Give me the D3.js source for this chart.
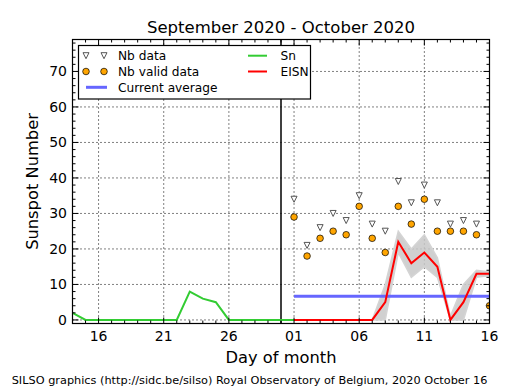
<!DOCTYPE html>
<html>
<head>
<meta charset="utf-8">
<script src="https://cdn.jsdelivr.net/npm/d3@7"></script>
<style>
  body { margin: 0; background: #fff; }
  svg { display: block; }
  text { font-family: "DejaVu Sans", sans-serif; }
</style>
</head>
<body>
<svg id="chart" width="515" height="390"></svg>
<script>
// ---------- data ----------
const snDates = ["2020-09-14","2020-09-15","2020-09-16","2020-09-17","2020-09-18","2020-09-19","2020-09-20","2020-09-21","2020-09-22","2020-09-23","2020-09-24","2020-09-25","2020-09-26","2020-09-27","2020-09-28","2020-09-29","2020-09-30","2020-10-01"];
const snValues = [2,0,0,0,0,0,0,0,0,8,6,5,0,0,0,0,0,0];

const octDates = ["2020-10-01","2020-10-02","2020-10-03","2020-10-04","2020-10-05","2020-10-06","2020-10-07","2020-10-08","2020-10-09","2020-10-10","2020-10-11","2020-10-12","2020-10-13","2020-10-14","2020-10-15","2020-10-16"];
const eisnValues = [0,0,0,0,0,0,0,5,22,16,19,15,0,5,13,13];
const eisnLower  = [0,0,0,0,0,0,0,0,19,12,15,12,0,0,12,12.5];
const eisnUpper  = [0,0,0,0,0,0,0,10,25,20,24,17.5,1,10,14,13.5];

const nbDataDates = octDates.slice(0, 15);
const nbDataValues = [34,21,26,30,28,35,27,25,39,33,38,33,27,28,27];
const nbValidValues = [29,18,23,25,24,32,23,19,32,27,34,25,25,25,24,4];

const currentAverage = 6.7;
const averageStart = "2020-10-01";
const averageEnd = "2020-10-16";
const separatorDate = "2020-09-30";

const xDomain = ["2020-09-14","2020-10-16"];
const xTickDates = ["2020-09-16","2020-09-21","2020-09-26","2020-10-01","2020-10-06","2020-10-11","2020-10-16"];
const yDomain = [-1, 79];
const yTicks = [0,10,20,30,40,50,60,70];

const titleText = "September 2020 - October 2020";
const xLabel = "Day of month";
const yLabel = "Sunspot Number";
const footerText = "SILSO graphics (http://sidc.be/silso) Royal Observatory of Belgium, 2020 October 16";

// ---------- layout ----------
const P = d3.utcParse("%Y-%m-%d");
const pL = 72.5, pR = 489.5, pT = 39.5, pB = 323.5;
const svg = d3.select("#chart");

const x = d3.scaleUtc().domain(xDomain.map(P)).range([pL, pR]);
const y = d3.scaleLinear().domain(yDomain).range([pB, pT]);

svg.append("defs").append("clipPath").attr("id","clip")
  .append("rect").attr("x", pL).attr("y", pT).attr("width", pR-pL).attr("height", pB-pT);

// grid
const grid = svg.append("g");
xTickDates.forEach(d => {
  grid.append("line").attr("x1", x(P(d))).attr("x2", x(P(d))).attr("y1", pT).attr("y2", pB)
    .attr("stroke","#000").attr("stroke-width",1).attr("stroke-dasharray","1,3");
});
yTicks.forEach(v => {
  grid.append("line").attr("x1", pL).attr("x2", pR).attr("y1", y(v)).attr("y2", y(v))
    .attr("stroke","#000").attr("stroke-width",1).attr("stroke-dasharray","1,3");
});

const plot = svg.append("g").attr("clip-path","url(#clip)");

// separator
plot.append("line").attr("x1", x(P(separatorDate))).attr("x2", x(P(separatorDate)))
  .attr("y1", pT).attr("y2", pB).attr("stroke","#000").attr("stroke-width",1.5);

// band
const bandData = octDates.map((d,i) => ({d:P(d), lo:eisnLower[i], hi:eisnUpper[i]}));
plot.append("path").datum(bandData)
  .attr("d", d3.area().x(p => x(p.d)).y0(p => y(p.lo)).y1(p => y(p.hi)))
  .attr("fill","#c8c8c8").attr("fill-opacity",0.85).attr("stroke","#d4d4d4").attr("stroke-width",1.5);

// Sn line
plot.append("path").datum(snDates.map((d,i)=>({d:P(d), v:snValues[i]})))
  .attr("d", d3.line().x(p=>x(p.d)).y(p=>y(p.v)))
  .attr("fill","none").attr("stroke","#33cc33").attr("stroke-width",2);

// current average
plot.append("line").attr("x1", x(P(averageStart))).attr("x2", x(P(averageEnd)))
  .attr("y1", y(currentAverage)).attr("y2", y(currentAverage))
  .attr("stroke","#6666ff").attr("stroke-width",3);

// EISN
plot.append("path").datum(octDates.map((d,i)=>({d:P(d), v:eisnValues[i]})))
  .attr("d", d3.line().x(p=>x(p.d)).y(p=>y(p.v)))
  .attr("fill","none").attr("stroke","#ff0000").attr("stroke-width",2);

// markers
const tri = (cx, cy, s) => `M${cx-s},${cy-s}L${cx+s},${cy-s}L${cx},${cy+s}Z`;
plot.selectAll(".nb").data(nbDataDates.map((d,i)=>({d:P(d), v:nbDataValues[i]})))
  .enter().append("path").attr("d", p => tri(x(p.d), y(p.v), 3))
  .attr("fill","#fff").attr("stroke","#555").attr("stroke-width",1);
plot.selectAll(".nbv").data(octDates.map((d,i)=>({d:P(d), v:nbValidValues[i]})))
  .enter().append("circle").attr("cx", p=>x(p.d)).attr("cy", p=>y(p.v)).attr("r",3.3)
  .attr("fill","#ffa500").attr("stroke","#000").attr("stroke-width",0.7);

// ticks (inward, all sides)
const tk = svg.append("g").attr("stroke","#000").attr("stroke-width",1);
const dayTicks = d3.utcDay.range(P(xDomain[0]), d3.utcDay.offset(P(xDomain[1]),1));
const majorSet = new Set(xTickDates);
const fmt = d3.utcFormat("%Y-%m-%d");
dayTicks.forEach(d => {
  const len = majorSet.has(fmt(d)) ? 6 : 3;
  const xx = x(d);
  tk.append("line").attr("x1",xx).attr("x2",xx).attr("y1",pB).attr("y2",pB-len);
  tk.append("line").attr("x1",xx).attr("x2",xx).attr("y1",pT).attr("y2",pT+len);
});
d3.range(0, 79, 2).forEach(v => {
  const len = (v % 10 === 0) ? 6 : 3;
  tk.append("line").attr("x1",pL).attr("x2",pL+len).attr("y1",y(v)).attr("y2",y(v));
  tk.append("line").attr("x1",pR).attr("x2",pR-len).attr("y1",y(v)).attr("y2",y(v));
});

// frame
svg.append("rect").attr("x",pL).attr("y",pT).attr("width",pR-pL).attr("height",pB-pT)
  .attr("fill","none").attr("stroke","#000").attr("stroke-width",1.2);

// tick labels
const dayFmt = d3.utcFormat("%d");
xTickDates.forEach(d => {
  svg.append("text").attr("x", x(P(d))).attr("y", 340.5).attr("text-anchor","middle")
    .attr("font-size",14).text(dayFmt(P(d)));
});
yTicks.forEach(v => {
  svg.append("text").attr("x", 67).attr("y", y(v)).attr("dy","0.36em").attr("text-anchor","end")
    .attr("font-size",14).text(v);
});

// labels
svg.append("text").attr("x", (pL+pR)/2).attr("y", 32.5).attr("text-anchor","middle")
  .attr("font-size",16.5).text(titleText);
svg.append("text").attr("x", (pL+pR)/2).attr("y", 363).attr("text-anchor","middle")
  .attr("font-size",16.3).text(xLabel);
svg.append("text").attr("transform", `translate(37.5,${(pT+pB)/2}) rotate(-90)`)
  .attr("text-anchor","middle").attr("font-size",16.3).text(yLabel);
svg.append("text").attr("x", 11.7).attr("y", 383.5).attr("font-family","'DejaVu Serif', serif")
  .attr("font-size",11.3).text(footerText);

// legend
const lg = svg.append("g");
lg.append("rect").attr("x",78.5).attr("y",45.5).attr("width",232).attr("height",53.5)
  .attr("fill","#fff").attr("stroke","#000").attr("stroke-width",1.2);
const rows = [55.7, 71.5, 87.3];
[86, 104].forEach(cx => {
  lg.append("path").attr("d", tri(cx, rows[0], 3)).attr("fill","#fff").attr("stroke","#555");
  lg.append("circle").attr("cx",cx).attr("cy",rows[1]).attr("r",3.3).attr("fill","#ffa500")
    .attr("stroke","#000").attr("stroke-width",0.7);
});
lg.append("line").attr("x1",86).attr("x2",107).attr("y1",rows[2]).attr("y2",rows[2])
  .attr("stroke","#6666ff").attr("stroke-width",3);
lg.append("line").attr("x1",248).attr("x2",267).attr("y1",rows[0]).attr("y2",rows[0])
  .attr("stroke","#33cc33").attr("stroke-width",2);
lg.append("line").attr("x1",248).attr("x2",267).attr("y1",rows[1]).attr("y2",rows[1])
  .attr("stroke","#ff0000").attr("stroke-width",2);
const legTxt = [["Nb data",118,rows[0]],["Nb valid data",118,rows[1]],["Current average",118,rows[2]],["Sn",280.5,rows[0]],["EISN",280.5,rows[1]]];
legTxt.forEach(([t,lx,ly]) => {
  lg.append("text").attr("x",lx).attr("y",ly).attr("dy","0.36em").attr("font-size",12.2).text(t);
});
</script>
</body>
</html>
